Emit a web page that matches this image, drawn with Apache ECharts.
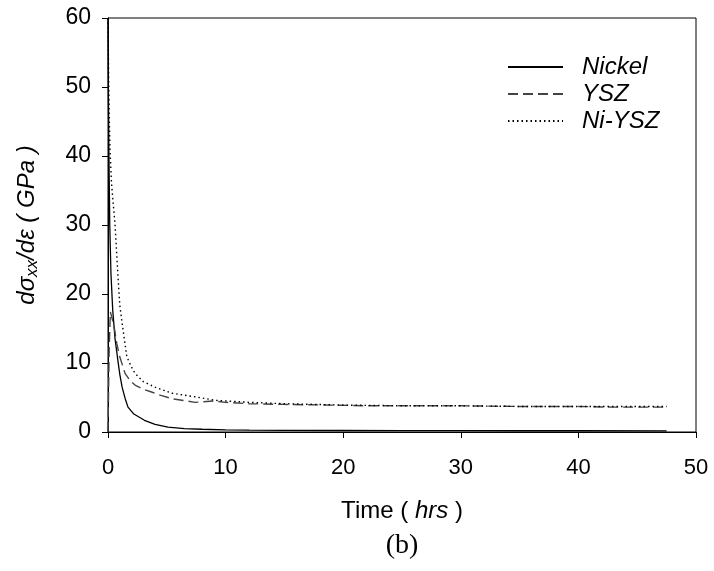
<!DOCTYPE html>
<html>
<head>
<meta charset="utf-8">
<script src="https://cdn.jsdelivr.net/npm/echarts@6/dist/echarts.min.js"></script>
<style>
  html, body { margin: 0; padding: 0; background: #fff; }
  #chart { width: 714px; height: 571px; }
</style>
</head>
<body>
<div id="chart"></div>
<script>
// Tangent modulus dσxx/dε (GPa) versus time (hrs)
const seriesNames = ['Nickel', 'YSZ', 'Ni-YSZ'];

const nickelTime = [0, 0.03, 0.08, 0.15, 0.25, 0.4, 0.6, 0.8, 1.0, 1.2, 1.45, 1.7, 2.2, 3.1, 4.0, 5.1, 6.5, 8, 10, 12, 15, 20, 25, 30, 35, 40, 47.5];
const nickelValue = [60, 50, 40, 30, 23, 17.7, 13.5, 10.9, 8.4, 6.5, 4.9, 3.6, 2.6, 1.7, 1.1, 0.7, 0.5, 0.4, 0.32, 0.28, 0.25, 0.22, 0.2, 0.2, 0.18, 0.18, 0.17];

const yszTime = [0, 0.1, 0.2, 0.35, 0.5, 0.75, 1.0, 1.45, 1.9, 2.3, 3.0, 3.7, 4.5, 5.5, 7.4, 9, 10, 12, 15, 19, 22, 25, 30, 35, 40, 43, 47.5];
const yszValue = [0, 12, 17.4, 17.2, 15.5, 12.8, 10.9, 8.5, 7.4, 6.8, 6.2, 5.8, 5.3, 4.8, 4.3, 4.5, 4.3, 4.1, 4.0, 3.9, 3.8, 3.8, 3.8, 3.7, 3.7, 3.6, 3.6];

const niyszTime = [0, 0.05, 0.1, 0.17, 0.3, 0.45, 0.6, 0.8, 1.0, 1.2, 1.6, 2.0, 2.3, 3.0, 4.0, 5.5, 7.4, 9.1, 10, 12, 15, 20, 25, 30, 35, 40, 47.5];
const niyszValue = [60, 52, 46, 40.9, 36, 33, 30, 24, 18.4, 15.8, 10.9, 9.4, 8.5, 7.3, 6.5, 5.6, 5.1, 4.6, 4.5, 4.3, 4.1, 3.9, 3.8, 3.8, 3.7, 3.7, 3.7];

const xTicks = { min: 0, max: 50, interval: 10 };
const yTicks = { min: 0, max: 60, interval: 10 };

function pairs(t, v) { return t.map((x, i) => [x, v[i]]); }

const chart = echarts.init(document.getElementById('chart'));
const font = 'Liberation Sans, Arial, sans-serif';

chart.setOption({
  animation: false,
  backgroundColor: '#ffffff',
  grid: {
    left: 108, right: 18, top: 18, bottom: 139,
    outerBoundsMode: 'none',
    containLabel: false,
    show: true, borderColor: '#000', borderWidth: 1, backgroundColor: 'transparent'
  },
  title: {
    text: '(b)',
    left: 402,
    textAlign: 'center',
    top: 532,
    textStyle: { fontFamily: 'Liberation Serif, Times New Roman, serif', fontSize: 28, fontWeight: 'normal', color: '#000' },
    padding: 0
  },
  legend: {
    orient: 'vertical',
    left: 502,
    top: 49,
    itemWidth: 55,
    itemHeight: 16,
    itemGap: 1,
    itemStyle: { opacity: 0 },
    textStyle: { fontFamily: font, fontStyle: 'italic', fontSize: 24, lineHeight: 26, color: '#000', padding: [0, 0, 0, 14] },
    data: seriesNames
  },
  xAxis: {
    type: 'value',
    min: xTicks.min, max: xTicks.max, interval: xTicks.interval,
    name: '{n|Time ( }{i|hrs}{n| )}',
    nameLocation: 'middle',
    nameGap: 67,
    nameTextStyle: {
      rich: {
        n: { fontFamily: font, fontSize: 24, color: '#000' },
        i: { fontFamily: font, fontSize: 24, fontStyle: 'italic', color: '#000' }
      }
    },
    axisLine: { show: true, lineStyle: { color: '#000', width: 1 } },
    axisTick: { show: true, inside: false, length: 6, lineStyle: { color: '#000' } },
    axisLabel: { fontFamily: font, fontSize: 22, color: '#000', margin: 25 },
    splitLine: { show: false }
  },
  yAxis: {
    type: 'value',
    min: yTicks.min, max: yTicks.max, interval: yTicks.interval,
    name: '{i|dσ}{s|xx}{i|/dε ( GPa )}',
    nameLocation: 'middle',
    nameGap: 67,
    nameRotate: 90,
    nameTextStyle: {
      rich: {
        i: { fontFamily: font, fontSize: 24, fontStyle: 'italic', color: '#000', lineHeight: 28, verticalAlign: 'middle' },
        s: { fontFamily: font, fontSize: 17, fontStyle: 'italic', color: '#000', lineHeight: 28, verticalAlign: 'bottom', padding: [12, 0, 0, 0] }
      }
    },
    axisLine: { show: true, lineStyle: { color: '#000', width: 1 } },
    axisTick: { show: true, inside: false, length: 6, lineStyle: { color: '#000' } },
    axisLabel: { fontFamily: font, fontSize: 23, color: '#000', margin: 17 },
    splitLine: { show: false }
  },
  series: [
    {
      name: seriesNames[0], type: 'line', symbol: 'none', smooth: false,
      data: pairs(nickelTime, nickelValue),
      lineStyle: { color: '#000', width: 1.3, type: 'solid' },
      itemStyle: { color: '#000' }
    },
    {
      name: seriesNames[1], type: 'line', symbol: 'none', smooth: false,
      data: pairs(yszTime, yszValue),
      lineStyle: { color: '#444', width: 1.4, type: [10, 5] },
      itemStyle: { color: '#444' }
    },
    {
      name: seriesNames[2], type: 'line', symbol: 'none', smooth: false,
      data: pairs(niyszTime, niyszValue),
      lineStyle: { color: '#000', width: 1.4, type: [1.5, 3] },
      itemStyle: { color: '#000' }
    }
  ]
});
</script>
</body>
</html>
